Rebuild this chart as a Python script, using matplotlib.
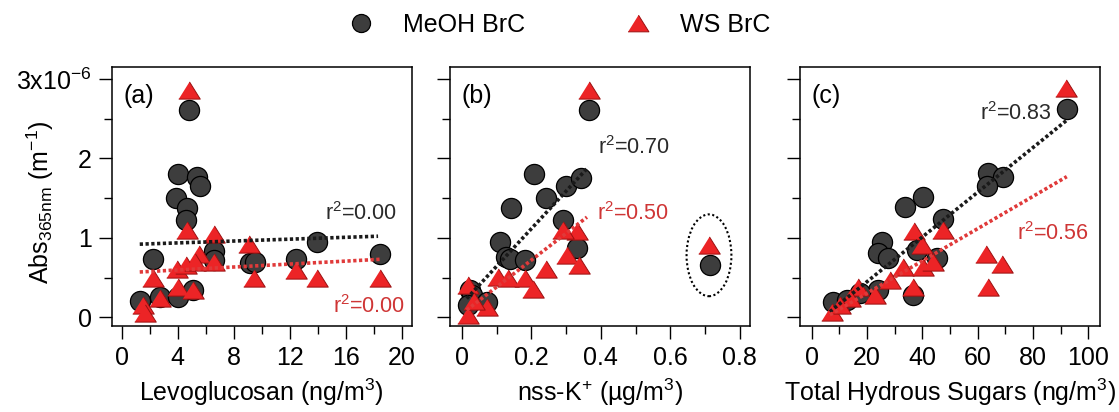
import matplotlib
matplotlib.use("Agg")
import matplotlib.pyplot as plt
from matplotlib.lines import Line2D
from matplotlib.patches import Ellipse
from matplotlib.ticker import MultipleLocator, FixedLocator, FixedFormatter

plt.rcParams["font.family"] = ["Liberation Sans", "DejaVu Sans"]
plt.rcParams["mathtext.fontset"] = "custom"
plt.rcParams["mathtext.rm"] = "Liberation Sans"
plt.rcParams["mathtext.it"] = "Liberation Sans:italic"
plt.rcParams["mathtext.bf"] = "Liberation Sans:bold"

# Absorption at 365 nm in units of 1e-6 m^-1
# (a) Levoglucosan (ng/m3)
levo_meoh = [4.83, 4.05, 5.36, 5.6, 3.88, 4.64, 4.6, 2.26, 6.6, 6.6, 9.17, 9.5,
             12.45, 13.98, 18.45, 1.31, 2.74, 4.05, 5.07]
abs_meoh_a = [2.61, 1.80, 1.77, 1.65, 1.50, 1.37, 1.22, 0.73, 0.84, 0.72, 0.68, 0.70,
              0.73, 0.95, 0.79, 0.21, 0.26, 0.26, 0.34]
levo_ws = [4.83, 4.64, 6.62, 9.12, 5.55, 3.93, 4.6, 5.24, 6.62, 2.26, 4.05, 5.07,
           2.74, 1.5, 1.67, 9.45, 12.45, 13.98, 18.45]
abs_ws_a = [2.86, 1.10, 1.05, 0.92, 0.80, 0.61, 0.66, 0.70, 0.70, 0.49, 0.38, 0.34,
            0.24, 0.15, 0.05, 0.49, 0.59, 0.50, 0.50]

# (b) nss-K+ (ug/m3)
k_meoh = [0.367, 0.208, 0.30, 0.342, 0.243, 0.141, 0.292, 0.110, 0.128, 0.139, 0.182,
          0.331, 0.714, 0.024, 0.029, 0.072, 0.019]
abs_meoh_b = [2.61, 1.80, 1.65, 1.75, 1.50, 1.37, 1.22, 0.95, 0.76, 0.73, 0.72,
              0.87, 0.66, 0.34, 0.28, 0.19, 0.15]
k_ws = [0.367, 0.331, 0.292, 0.712, 0.302, 0.336, 0.243, 0.105, 0.134, 0.182, 0.206,
        0.019, 0.019, 0.072, 0.034]
abs_ws_b = [2.86, 1.08, 1.10, 0.91, 0.78, 0.66, 0.61, 0.51, 0.49, 0.49, 0.36,
            0.40, 0.03, 0.13, 0.21]

# (c) Total hydrous sugars (ng/m3)
sug_meoh = [92.2, 63.9, 69.3, 63.3, 40.4, 33.7, 47.3, 25.3, 24.1, 27.7, 38.0, 45.2,
            36.7, 24.1, 7.8, 12.7, 17.5]
abs_meoh_c = [2.62, 1.81, 1.76, 1.65, 1.52, 1.39, 1.24, 0.95, 0.81, 0.74, 0.85, 0.75,
              0.28, 0.34, 0.19, 0.22, 0.30]
sug_ws = [91.9, 37.0, 47.3, 39.8, 63.0, 68.7, 63.9, 33.1, 40.4, 44.0, 28.3, 36.7,
          22.9, 16.9, 13.9, 7.2, 10.2]
abs_ws_c = [2.88, 1.08, 1.10, 0.91, 0.80, 0.67, 0.38, 0.63, 0.63, 0.70, 0.47, 0.38,
            0.28, 0.38, 0.24, 0.07, 0.15]

# Linear fits: end points (x0, x1), (y0, y1)
fit_meoh_a = ([1.3, 18.3], [0.92, 1.02])
fit_ws_a = ([1.3, 18.5], [0.57, 0.73])
fit_meoh_b = ([0.014, 0.364], [0.235, 1.89])
fit_ws_b = ([0.014, 0.36], [0.09, 1.26])
fit_meoh_c = ([6.6, 92.2], [0.07, 2.48])
fit_ws_c = ([6.6, 92.2], [0.03, 1.77])

r2_labels = [("0.00", "0.00"), ("0.70", "0.50"), ("0.83", "0.56")]

panel_tags = ["(a)", "(b)", "(c)"]
x_titles = ["Levoglucosan (ng/m$^{3}$)", "nss-K$^{+}$ (µg/m$^{3}$)",
            "Total Hydrous Sugars (ng/m$^{3}$)"]
y_title = "Abs$_{\\mathrm{365nm}}$ (m$^{-1}$)"
y_ticks = [0, 1, 2, 3]
y_ticklabels = ["0", "1", "2", "3x10$^{-6}$"]
legend_labels = ["MeOH BrC", "WS BrC"]

GREY = "#3d3d3d"
RED = "#ec2426"
RED_EDGE = "#9a1010"
TXT_DARK = "#2a2a2a"
TXT_RED = "#cf3535"
FS = 18

tri = [(-1, -0.8), (1, -0.8), (0, 0.8)]

fig = plt.figure(figsize=(11.19, 4.12), dpi=100)
W, H = 1119, 412
lefts = [111.7, 450, 800]
ax_w, top, bottom = 300, 67, 326
axes = [fig.add_axes([l / W, (H - bottom) / H, ax_w / W, (bottom - top) / H]) for l in lefts]

xlims = [(-0.7, 20.7), (-0.034, 0.829), (-4.2, 104.2)]
xmaj = [4, 0.2, 20]
xmin = [2, 0.1, 10]

series = [
    (levo_meoh, abs_meoh_a, levo_ws, abs_ws_a, fit_meoh_a, fit_ws_a),
    (k_meoh, abs_meoh_b, k_ws, abs_ws_b, fit_meoh_b, fit_ws_b),
    (sug_meoh, abs_meoh_c, sug_ws, abs_ws_c, fit_meoh_c, fit_ws_c),
]

# r^2 label anchor (left, baseline) in data coordinates
r2_pos = [((14.5, 1.22), (15.1, 0.05)),
          ((0.392, 2.05), (0.389, 1.22)),
          ((60.8, 2.48), (74.2, 0.97))]

for i, ax in enumerate(axes):
    xm, ym, xw, yw, fm, fw = series[i]
    ax.plot(xm, ym, ls="none", marker="o", ms=14.5, mfc=GREY, mec="black", mew=0.9, zorder=3)
    ax.plot(xw, yw, ls="none", marker=tri, ms=15.5, mfc=RED, mec=RED_EDGE, mew=0.7, zorder=4)
    ax.plot(fm[0], fm[1], color="#1a1a1a", lw=2.6, dashes=(0.9, 0.7), zorder=5)
    ax.plot(fw[0], fw[1], color="#e03a3a", lw=2.6, dashes=(0.9, 0.7), zorder=5)

    (px1, py1), (px2, py2) = r2_pos[i]
    ax.text(px1, py1, "r$^{2}$=" + r2_labels[i][0], color=TXT_DARK, fontsize=15.5,
            va="baseline", ha="left", zorder=6)
    ax.text(px2, py2, "r$^{2}$=" + r2_labels[i][1], color=TXT_RED, fontsize=15.5,
            va="baseline", ha="left", zorder=6)

    ax.text(0.038, 0.861, panel_tags[i], transform=ax.transAxes, fontsize=FS,
            va="baseline", ha="left")

    ax.set_xlim(*xlims[i])
    ax.set_ylim(-0.11, 3.15)
    ax.xaxis.set_major_locator(MultipleLocator(xmaj[i]))
    ax.xaxis.set_minor_locator(MultipleLocator(xmin[i]))
    ax.yaxis.set_major_locator(FixedLocator(y_ticks))
    ax.yaxis.set_minor_locator(MultipleLocator(0.5))
    ax.set_xticks([t for t in ax.get_xticks() if xlims[i][0] <= t <= xlims[i][1]])
    ax.set_xticklabels([f"{round(t, 3):g}" for t in ax.get_xticks()])
    if i == 0:
        ax.yaxis.set_major_formatter(FixedFormatter(y_ticklabels))
    else:
        ax.set_yticklabels([])
    ax.tick_params(which="major", direction="out", length=9.5, width=1.0, labelsize=FS, pad=5)
    ax.tick_params(which="minor", direction="out", length=5.5, width=1.0)
    ax.tick_params(top=False, right=False)
    for s in ax.spines.values():
        s.set_linewidth(1.1)
    ax.set_xlabel(x_titles[i], fontsize=FS, labelpad=5)

# shared y-axis title on the left of panel (a)
fig.text(40 / W, 1 - 202 / H, y_title, rotation=90, fontsize=FS, ha="center", va="center")

# dotted ring around the outlying sample in (b)
axes[1].add_patch(Ellipse((0.711, 0.78), 0.129, 1.03, fill=False, ec="black",
                          lw=1.5, ls=(0, (1, 1.2)), zorder=6))

handles = [
    Line2D([], [], ls="none", marker="o", ms=13, mfc=GREY, mec="black", mew=0.9),
    Line2D([], [], ls="none", marker=tri, ms=15, mfc=RED, mec=RED_EDGE, mew=0.7),
]
fig.legend(handles, legend_labels, loc="center", bbox_to_anchor=(0.500, 0.939), ncol=2,
           frameon=False, fontsize=FS, handlelength=1.0, handletextpad=1.2,
           columnspacing=4.0, borderaxespad=0, borderpad=0)

fig.savefig("out.png", dpi=100)
